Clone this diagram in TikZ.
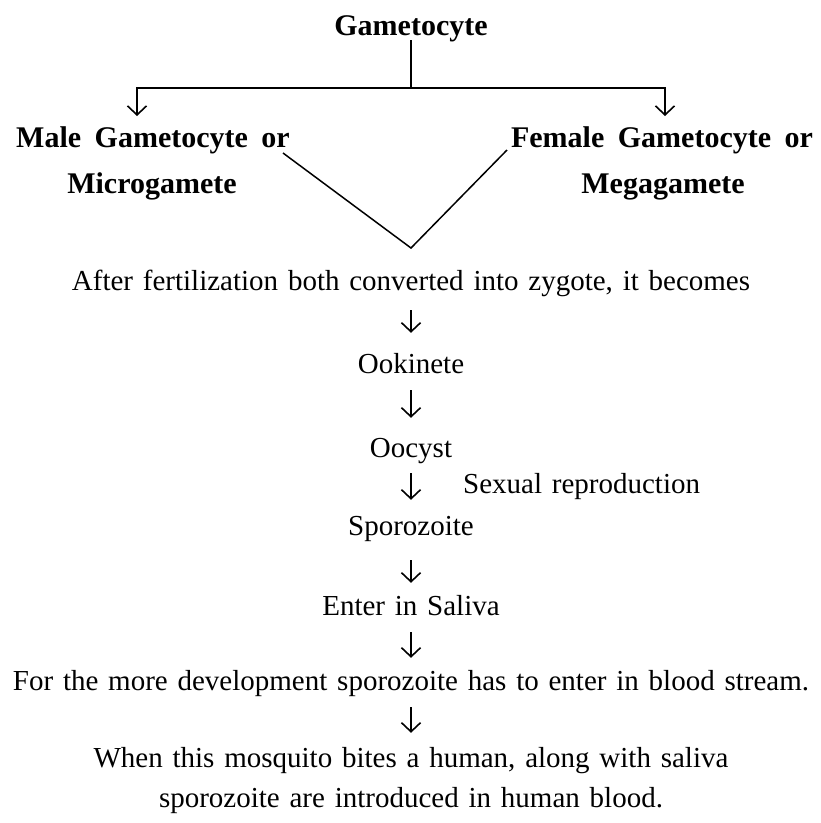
\documentclass[tikz,border=0pt]{standalone}
\usepackage{fontspec}
\setmainfont{Liberation Serif}[WordSpace=1.35, BoldFeatures={WordSpace=1.8}]
\usetikzlibrary{arrows.meta}
\tikzset{
  reg/.style={inner sep=0pt, font=\fontsize{29}{35}\selectfont, text height=18pt, text depth=7pt, anchor=base},
  bld/.style={inner sep=0pt, font=\fontsize{30}{36}\selectfont\bfseries, text height=20pt, text depth=7pt, anchor=base},
  ln/.style={line width=1.7pt, line cap=butt, line join=miter},
  arr/.style={line width=1.6pt, -{Straight Barb[length=9pt,width=19pt,line width=1.6pt]}}
}
\begin{document}
\begin{tikzpicture}[x=1pt,y=-1pt]
\useasboundingbox (0,0) rectangle (821,823);
% nodes
\node[bld] (game) at (411,35) {Gametocyte};
\node[bld] (male) at (153,147) {Male Gametocyte or};
\node[bld] (micro) at (152,193) {Microgamete};
\node[bld] (female) at (662,147) {Female Gametocyte or};
\node[bld] (mega) at (663,193) {Megagamete};
\node[reg] (after) at (411,290) {After fertilization both converted into zygote, it becomes};
\node[reg] (ook) at (411,373) {Ookinete};
\node[reg] (oocyst) at (411,457) {Oocyst};
\node[reg, anchor=base west] (sexual) at (463,493) {Sexual reproduction};
\node[reg] (sporo) at (411,535) {Sporozoite};
\node[reg] (saliva) at (411,615) {Enter in Saliva};
\node[reg] (dev) at (411,690) {For the more development sporozoite has to enter in blood stream.};
\node[reg] (bite1) at (411,767) {When this mosquito bites a human, along with saliva};
\node[reg] (bite2) at (411,807) {sporozoite are introduced in human blood.};
% branch
\coordinate (split) at (411,88);
\coordinate (lt) at (137,116);
\coordinate (rt) at (665,116);
\draw[ln] (game.south) ++(0,-2) -- (split);
\draw[arr] (split) -| (lt);
\draw[arr] (split) -| (rt);
% V
\coordinate (vl) at (283,153);
\coordinate (vapex) at (411,248);
\coordinate (vr) at (507,150);
\draw[ln, line width=1.5pt] (vl) -- (vapex) -- (vr);
% chain
\draw[arr, shorten <=13pt, shorten >=22pt] (after.south) -- (ook.north);
\draw[arr, shorten <=10pt, shorten >=21pt] (ook.south) -- (oocyst.north);
\draw[arr, shorten <=9pt, shorten >=17pt] (oocyst.south) -- (sporo.north);
\draw[arr, shorten <=18pt, shorten >=14pt] (sporo.south) -- (saliva.north);
\draw[arr, shorten <=10pt, shorten >=14pt] (saliva.south) -- (dev.north);
\draw[arr, shorten <=10pt, shorten >=16pt] (dev.south) -- (bite1.north);
\end{tikzpicture}
\end{document}
